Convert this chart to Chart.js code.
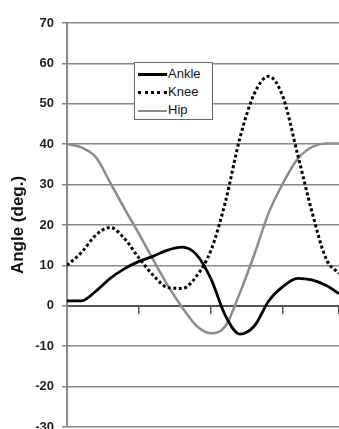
<!DOCTYPE html>
<html>
<head>
<meta charset="utf-8">
<script src="https://cdn.jsdelivr.net/npm/chart.js@4/dist/chart.umd.min.js"></script>
<style>
  html, body { margin: 0; padding: 0; background: #fff; overflow: hidden; }
  #wrap { position: relative; width: 339px; height: 429px; }
  #legend {
    position: absolute; left: 134px; top: 62px; width: 79px; height: 58px;
    background: #fff; border: 1.5px solid #666; box-sizing: border-box;
    font: 13px "Liberation Sans", Arial, sans-serif; color: #111;
  }
  .row { position: absolute; left: 3px; height: 18px; line-height: 18px; white-space: nowrap; }
  .row span.mark { display: inline-block; width: 29px; height: 0; vertical-align: middle; margin-right: 1px; }
</style>
</head>
<body>
<div id="wrap">
  <canvas id="grafico" width="339" height="429"></canvas>
  <div id="legend">
    <div class="row" style="top:2px"><span class="mark" style="border-top:3px solid #000"></span>Ankle</div>
    <div class="row" style="top:20px"><span class="mark" style="border-top:3px dotted #000"></span>Knee</div>
    <div class="row" style="top:38px"><span class="mark" style="border-top:2.5px solid #8c8c8c"></span>Hip</div>
  </div>
</div>
<script>
// percent of gait cycle (the picture is cut at ~94%)
const pct = [0, 5, 10, 15, 20, 25, 30, 35, 40, 45, 50, 55, 60, 65, 70, 75, 80, 85, 90, 94.4];
const ankle = [1.2, 1.2, 3.6, 6.8, 9.2, 11, 12.3, 13.8, 14.5, 12.6, 6.6, -2.5, -7, -5, 1.2, 4.8, 6.8, 6.4, 5, 3];
const knee = [10, 13.2, 17.5, 19.4, 16.6, 11.8, 7.5, 4.5, 4.3, 7.4, 13.8, 25.8, 41.5, 52.5, 56.8, 51.6, 37.6, 23.3, 11.5, 8];
const hip = [40, 39.2, 36.8, 30.5, 24, 17.8, 11.3, 5, -0.4, -5, -6.8, -5, 3.2, 12.7, 23, 30.4, 36.3, 39.3, 40.2, 40.2];
const yTicks = [-30, -20, -10, 0, 10, 20, 30, 40, 50, 60, 70];

const toPoints = arr => arr.map((v, i) => ({ x: pct[i], y: v }));

const ctx = document.getElementById('grafico').getContext('2d');

new Chart(ctx, {
    type: 'line',
    data: {
        datasets: [
            {
                label: 'Ankle',
                data: toPoints(ankle),
                borderColor: '#000',
                borderWidth: 2.8,
                pointRadius: 0,
                cubicInterpolationMode: 'monotone'
            },
            {
                label: 'Knee',
                data: toPoints(knee),
                borderColor: '#000',
                borderWidth: 3,
                borderDash: [3, 2.5],
                pointRadius: 0,
                cubicInterpolationMode: 'monotone'
            },
            {
                label: 'Hip',
                data: toPoints(hip),
                borderColor: '#8c8c8c',
                borderWidth: 2.5,
                pointRadius: 0,
                cubicInterpolationMode: 'monotone'
            }
        ]
    },
    options: {
        responsive: false,
        animation: false,
        layout: { padding: { top: 23, bottom: 2, left: 0, right: 0 } },
        plugins: {
            legend: { display: false },
            tooltip: { enabled: false }
        },
        scales: {
            x: {
                type: 'linear',
                min: 0,
                max: 94.4,
                position: { y: 0 },
                ticks: { display: false, stepSize: 25 },
                grid: { drawOnChartArea: false, drawTicks: true, tickLength: 7, color: '#555', lineWidth: 1.5 },
                border: { color: '#555', width: 2 }
            },
            y: {
                min: -30,
                max: 70,
                afterBuildTicks: scale => { scale.ticks = yTicks.map(v => ({ value: v })); },
                afterFit: scale => { scale.width = 67; scale.paddingTop = 0; scale.paddingBottom = 0; },
                ticks: {
                    color: '#222',
                    padding: 8,
                    font: { family: 'Liberation Sans', size: 13, weight: 'bold' }
                },
                grid: { color: '#888', lineWidth: 1.5, tickLength: 5 },
                border: { color: '#888', width: 2 },
                title: {
                    display: true,
                    text: 'Angle (deg.)',
                    color: '#111',
                    padding: { top: 8, bottom: 0 },
                    font: { family: 'Liberation Sans', size: 17, weight: 'bold' }
                }
            }
        }
    }
});
</script>
</body>
</html>
